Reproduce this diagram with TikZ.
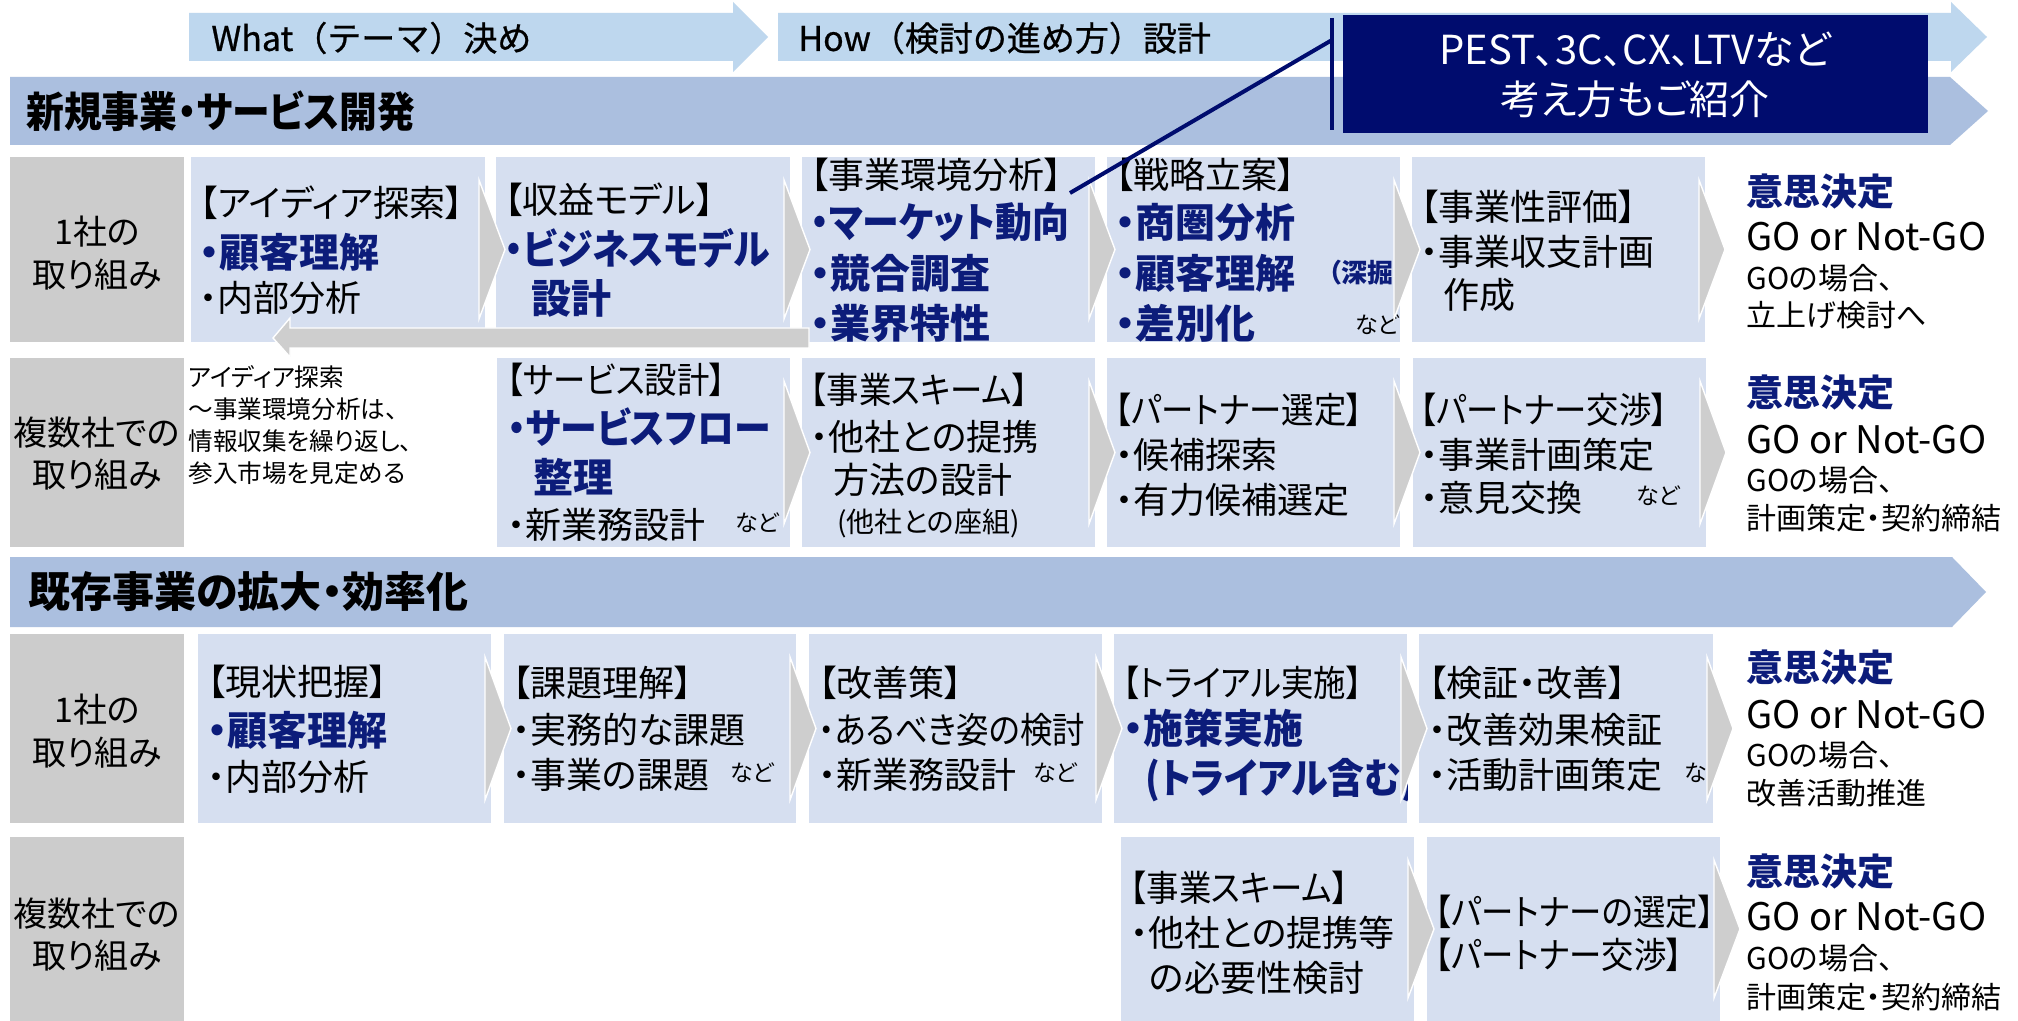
\documentclass[tikz,border=0pt]{standalone}
\usepackage{fontspec}
\setmainfont{Noto Sans CJK JP}[RawFeature=+palt]
\newfontfamily\jpfull{Noto Sans CJK JP}[FakeBold=0.7]
\newfontfamily\jpnarrow{Noto Sans CJK JP}[RawFeature=+palt,FakeStretch=0.9]
\definecolor{arrowblue}{RGB}{190,215,238}
\definecolor{bandblue}{RGB}{171,191,223}
\definecolor{boxblue}{RGB}{214,223,240}
\definecolor{labgray}{RGB}{204,204,204}
\definecolor{trigray}{RGB}{206,206,206}
\definecolor{navyfill}{RGB}{0,12,110}
\definecolor{navytext}{RGB}{12,28,122}
\newcommand\mybox[4]{\fill[boxblue] (#1,#2) rectangle (#3,#4);}
\newcommand\mylab[4]{\fill[labgray] (#1,#2) rectangle (#3,#4);}
\newcommand\mychev[3]{\filldraw[tri] ({#1-6},{#2+23}) -- ({#1+20},{(#2+#3)/2}) -- ({#1-6},{#3-23}) -- cycle;}
\begin{document}
\begin{tikzpicture}[x=0.5pt,y=-0.5pt,
  tri/.style={fill=trigray,draw=white,line width=0.7pt},
  tx/.style={anchor=west,inner sep=0pt,font=\fontsize{18}{22}\selectfont},
  txn/.style={anchor=west,inner sep=0pt,font=\jpnarrow\fontsize{18}{22}\selectfont},
  tb/.style={anchor=west,inner sep=0pt,text=navytext,font=\bfseries\fontsize{20}{24}\selectfont},
  tbn/.style={anchor=west,inner sep=0pt,text=navytext,font=\jpnarrow\bfseries\fontsize{20.5}{24}\selectfont},
  tsm/.style={anchor=west,inner sep=0pt,font=\fontsize{11.5}{14}\selectfont},
  tpar/.style={anchor=west,inner sep=0pt,font=\fontsize{14}{17}\selectfont},
  tdig/.style={anchor=west,inner sep=0pt,text=navytext,font=\bfseries\fontsize{13}{15}\selectfont},
  tnote/.style={anchor=west,inner sep=0pt,font=\fontsize{12.3}{14}\selectfont},
  tlab/.style={inner sep=0pt,font=\fontsize{17}{20}\selectfont},
  tdec/.style={anchor=west,inner sep=0pt,text=navytext,font=\bfseries\fontsize{18.5}{22}\selectfont},
  tgo/.style={anchor=west,inner sep=0pt,font=\fontsize{19}{22}\selectfont},
  tgs/.style={anchor=west,inner sep=0pt,font=\fontsize{15}{18}\selectfont},
  bandt/.style={anchor=west,inner sep=0pt,font=\bfseries\fontsize{21}{25}\selectfont},
  bandtn/.style={anchor=west,inner sep=0pt,font=\jpnarrow\bfseries\fontsize{21}{25}\selectfont},
  topt/.style={anchor=west,inner sep=0pt,font=\jpfull\fontsize{17}{20}\selectfont},
  pestt/.style={inner sep=0pt,text=white,font=\fontsize{20}{24}\selectfont},
  leader/.style={draw=navyfill,line width=2pt}
]
\useasboundingbox (0,0) rectangle (2018,1021);
\fill[white] (0,0) rectangle (2018,1021);

% ---------- top phase arrows ----------
\fill[arrowblue] (189,13) -- (733,13) -- (733,2) -- (768,37) -- (733,72) -- (733,61) -- (189,61) -- cycle;
\fill[arrowblue] (778,13) -- (1951,13) -- (1951,2) -- (1987,37) -- (1951,72) -- (1951,61) -- (778,61) -- cycle;
\node[topt] (what) at (211,38) {What（テーマ）決め};
\node[topt] (how) at (798,38) {How（検討の進め方）設計};

% ---------- section bands ----------
\fill[bandblue] (10,77) -- (1950,77) -- (1988,111) -- (1950,145) -- (10,145) -- cycle;
\node[bandtn] (band1) at (26,111) {新規事業・サービス開発};
\fill[bandblue] (10,557) -- (1952,557) -- (1986,592) -- (1952,627) -- (10,627) -- cycle;
\node[bandt] (band2) at (28,592) {既存事業の拡大・効率化};

% ---------- row labels ----------
\mylab{10}{157}{184}{342}
\mylab{10}{358}{184}{547}
\mylab{10}{634}{184}{823}
\mylab{10}{837}{184}{1021}
\node[tlab] (l1a) at (97,232) {1社の};
\node[tlab] (l1b) at (97,275) {取り組み};
\node[tlab] (l2a) at (97,433) {複数社での};
\node[tlab] (l2b) at (97,475) {取り組み};
\node[tlab] (l3a) at (97,710) {1社の};
\node[tlab] (l3b) at (97,753) {取り組み};
\node[tlab] (l4a) at (97,914) {複数社での};
\node[tlab] (l4b) at (97,956) {取り組み};

% ---------- boxes ----------
\mybox{191}{157}{485}{342}
\mybox{496}{157}{790}{342}
\mybox{802}{157}{1095}{342}
\mybox{1107}{157}{1400}{342}
\mybox{1412}{157}{1705}{342}
\mybox{497}{358}{790}{547}
\mybox{802}{358}{1095}{547}
\mybox{1107}{358}{1400}{547}
\mybox{1413}{358}{1706}{547}
\mybox{198}{634}{491}{823}
\mybox{504}{634}{796}{823}
\mybox{809}{634}{1102}{823}
\mybox{1114}{634}{1407}{823}
\mybox{1419}{634}{1713}{823}
\mybox{1121}{837}{1414}{1021}
\mybox{1427}{837}{1720}{1021}

% ---------- row 1 texts ----------
\node[tx] (a1) at (199,203) {【アイディア探索】};
\node[tb] (a2) at (199,252) {・顧客理解};
\node[tx] (a3) at (199,298) {・内部分析};
\node[tx] (b1) at (504,200) {【収益モデル】};
\node[tbn] (b2) at (504,248) {・ビジネスモデル};
\node[tb] (b3) at (531,298) {設計};
\node[tx] (c1) at (810,175) {【事業環境分析】};
\node[tbn] (c2) at (810,222) {・マーケット動向};
\node[tb] (c3) at (810,273) {・競合調査};
\node[tb] (c4) at (810,323) {・業界特性};
\node[tx] (d1) at (1115,175) {【戦略立案】};
\node[tb] (d2) at (1115,222) {・商圏分析};
\node[tb] (d3) at (1115,273) {・顧客理解};
\begin{scope}
\clip (1107,157) rectangle (1399,342);
\node[tdig] (d3b) at (1328,273) {（深掘り）};
\end{scope}
\node[tb] (d4) at (1115,323) {・差別化};
\node[tsm] (d5) at (1355,325) {など};
\node[tx] (e1) at (1420,207) {【事業性評価】};
\node[tx] (e2) at (1420,252) {・事業収支計画};
\node[tx] (e3) at (1443,295) {作成};
\node[tdec] (g1a) at (1746,192) {意思決定};
\node[tgo] (g1b) at (1746,237) {GO or Not-GO};
\node[tgs] (g1c) at (1746,278) {GOの場合、};
\node[tgs] (g1d) at (1746,315) {立上げ検討へ};

% ---------- row 2 texts ----------
\node[tnote] (n1) at (188,377) {アイディア探索};
\node[tnote] (n2) at (188,409) {～事業環境分析は、};
\node[tnote] (n3) at (188,441) {情報収集を繰り返し、};
\node[tnote] (n4) at (188,473) {参入市場を見定める};
\node[txn] (b21) at (507,380) {【サービス設計】};
\node[tbn] (b22) at (507,427) {・サービスフロー};
\node[tb] (b23) at (533,477) {整理};
\node[tx] (b24) at (507,525) {・新業務設計};
\node[tsm] (b25) at (735,523) {など};
\node[txn] (c21) at (810,390) {【事業スキーム】};
\node[tx] (c22) at (810,437) {・他社との提携};
\node[tx] (c23) at (833,480) {方法の設計};
\node[tpar] (c24) at (837,523) {(他社との座組)};
\node[txn] (d21) at (1115,410) {【パートナー選定】};
\node[tx] (d22) at (1115,455) {・候補探索};
\node[tx] (d23) at (1115,500) {・有力候補選定};
\node[txn] (e21) at (1420,410) {【パートナー交渉】};
\node[tx] (e22) at (1420,455) {・事業計画策定};
\node[tx] (e23) at (1420,498) {・意見交換};
\node[tsm] (e24) at (1636,496) {など};
\node[tdec] (g2a) at (1746,393) {意思決定};
\node[tgo] (g2b) at (1746,440) {GO or Not-GO};
\node[tgs] (g2c) at (1746,480) {GOの場合、};
\node[tgs] (g2d) at (1746,518) {計画策定・契約締結};

% ---------- row 3 texts ----------
\node[tx] (a31) at (207,682) {【現状把握】};
\node[tb] (a32) at (207,730) {・顧客理解};
\node[tx] (a33) at (207,777) {・内部分析};
\node[tx] (b31) at (512,683) {【課題理解】};
\node[tx] (b32) at (512,730) {・実務的な課題};
\node[tx] (b33) at (512,775) {・事業の課題};
\node[tsm] (b34) at (730,773) {など};
\node[tx] (c31) at (818,683) {【改善策】};
\node[txn] (c32) at (818,730) {・あるべき姿の検討};
\node[tx] (c33) at (818,775) {・新業務設計};
\node[tsm] (c34) at (1033,773) {など};
\node[txn] (d31) at (1123,683) {【トライアル実施】};
\node[tb] (d32) at (1123,728) {・施策実施};
\begin{scope}
\clip (1114,634) rectangle (1407,823);
\node[tbn] (d33) at (1145,780) {(トライアル含む)};
\end{scope}
\node[tx] (e31) at (1428,683) {【検証・改善】};
\node[tx] (e32) at (1428,730) {・改善効果検証};
\node[tx] (e33) at (1428,775) {・活動計画策定};
\begin{scope}
\clip (1419,634) rectangle (1713,823);
\node[tsm] (e34) at (1684,773) {など};
\end{scope}
\node[tdec] (g3a) at (1746,668) {意思決定};
\node[tgo] (g3b) at (1746,715) {GO or Not-GO};
\node[tgs] (g3c) at (1746,755) {GOの場合、};
\node[tgs] (g3d) at (1746,793) {改善活動推進};

% ---------- row 4 texts ----------
\node[txn] (d41) at (1130,888) {【事業スキーム】};
\node[tx] (d42) at (1130,933) {・他社との提携等};
\node[tx] (d43) at (1149,978) {の必要性検討};
\node[txn] (e41) at (1435,912) {【パートナーの選定】};
\node[txn] (e42) at (1435,955) {【パートナー交渉】};
\node[tdec] (g4a) at (1746,872) {意思決定};
\node[tgo] (g4b) at (1746,917) {GO or Not-GO};
\node[tgs] (g4c) at (1746,958) {GOの場合、};
\node[tgs] (g4d) at (1746,997) {計画策定・契約締結};

% ---------- chevron triangles ----------
\mychev{485}{157}{342}
\mychev{790}{157}{342}
\mychev{1095}{157}{342}
\mychev{1400}{157}{342}
\mychev{1705}{157}{342}
\mychev{790}{358}{547}
\mychev{1095}{358}{547}
\mychev{1400}{358}{547}
\mychev{1706}{358}{547}
\mychev{491}{634}{823}
\mychev{796}{634}{823}
\mychev{1102}{634}{823}
\mychev{1407}{634}{823}
\mychev{1713}{634}{823}
\mychev{1414}{837}{1021}
\mychev{1720}{837}{1021}

% ---------- feedback arrow ----------
\filldraw[tri] (273,338) -- (290,318) -- (290,328) -- (809,328) -- (809,348) -- (290,348) -- (290,357) -- cycle;

% ---------- callout ----------
\fill[navyfill] (1343,15) rectangle (1928,133);
\node[pestt] (pest1) at (1635,49) {PEST、3C、CX、LTVなど};
\node[pestt] (pest2) at (1635,99) {考え方もご紹介};
\coordinate (cbartop) at (1332,18);
\coordinate (cbarbot) at (1332,130);
\coordinate (cjoin) at (1332,40);
\coordinate (cend) at (1070,193);
\draw[leader] (cbartop) -- (cbarbot);
\draw[leader] (cjoin) -- (cend);
\end{tikzpicture}
\end{document}
